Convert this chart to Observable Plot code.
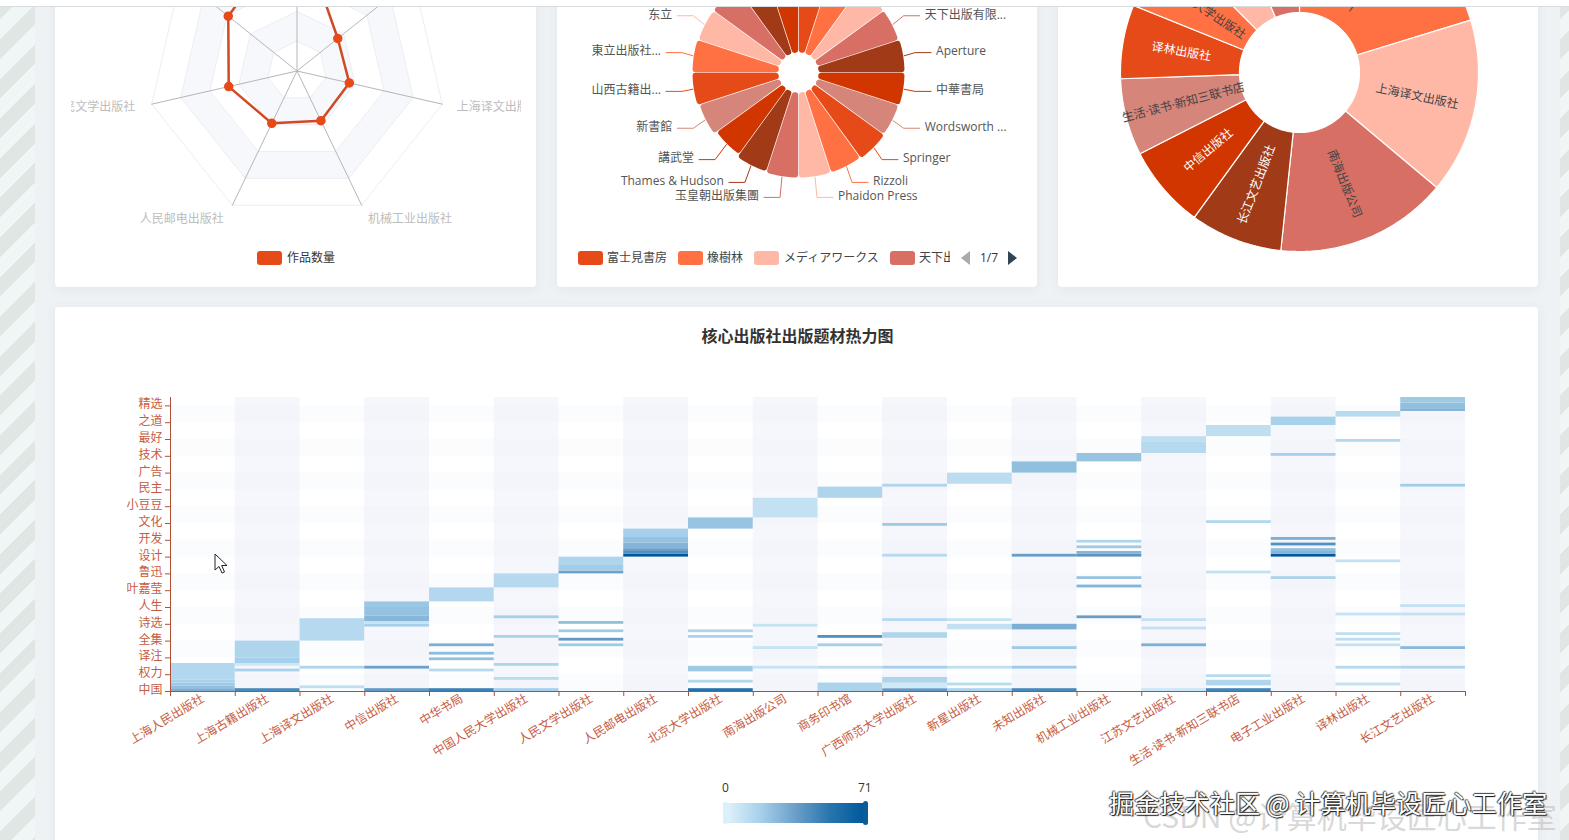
<!DOCTYPE html>
<html lang="zh">
<head>
<meta charset="utf-8">
<script src="https://cdn.jsdelivr.net/npm/d3@7"></script>
<script src="https://cdn.jsdelivr.net/npm/@observablehq/plot@0.6"></script>
<style>
html,body{margin:0;padding:0;width:1569px;height:840px;overflow:hidden;background:#eff2f5;font-family:"Open Sans","Noto Sans CJK SC","Noto Sans",sans-serif;}
.abs{position:absolute;}
.clip{position:absolute;overflow:hidden;}
.stripe{position:absolute;top:0;height:840px;background:repeating-linear-gradient(135deg,#dfe6e4 0 14px,#f0f5f5 14px 28px);}
.card{position:absolute;background:#fff;border-radius:4px;box-shadow:0 2px 12px rgba(60,70,80,.07);}
.swatch{position:absolute;width:25px;height:14px;border-radius:3px;}
.lg{position:absolute;font-size:12px;line-height:14px;color:#444;white-space:nowrap;}
</style>
</head>
<body>
<div id="page" class="abs" style="left:0;top:0;width:1569px;height:840px;overflow:hidden">
  <div class="stripe" style="left:0;width:35px"></div>
  <div class="stripe" style="left:1560px;width:9px"></div>
  <div class="card" style="left:55px;top:-20px;width:481px;height:307px"></div>
  <div class="card" style="left:557px;top:-20px;width:480px;height:307px"></div>
  <div class="card" style="left:1058px;top:-20px;width:480px;height:307px"></div>
  <div class="card" style="left:55px;top:307px;width:1483px;height:560px"></div>
  <div class="abs" style="left:0;top:0;width:1569px;height:6px;background:#fff;border-bottom:1px solid #d9dcdf;z-index:5"></div>
  <div class="abs" style="left:56px;top:325px;width:1483px;text-align:center;font-size:16px;line-height:22px;font-weight:700;color:#333">核心出版社出版题材热力图</div>
</div>
<script>
const fontFamily = '"Open Sans","Noto Sans CJK SC","Noto Sans",sans-serif';
const page = document.getElementById("page");

// ---------- palette ----------
const paletteRed = "#e64a19", paletteOrange = "#ff7043", palettePale = "#ffb8a6",
      paletteRose = "#d86f65", paletteBrown = "#a03a17", paletteDeep = "#d13600", paletteBeige = "#d6857a";
const roseCycle = [paletteRed, paletteOrange, palettePale, paletteRose, paletteBrown, paletteDeep, paletteBeige];

// ---------- radar ----------
const radarNames = ["上海人民出版社","上海古籍出版社","上海译文出版社","机械工业出版社","人民邮电出版社","人民文学出版社","中信出版社"];
const radarValues = [100, 35, 36, 37, 39, 47, 59];
const radarMax = 100;

// ---------- rose ----------
const roseNames = ["富士見書房","橡樹林","メディアワークス","天下出版有限...","Aperture","中華書局","Wordsworth ...","Springer","Rizzoli","Phaidon Press","玉皇朝出版集團","Thames & Hudson","講武堂","新書館","山西古籍出...","東立出版社...","东立","尖端","角川書店","時報文化"];
const roseRadii = [105,105,105,105,106,106,105,106,105,105,105,104,101,104,106,106,105,105,105,105];

// ---------- pie ----------
const pieNames = ["上海人民出版社","上海译文出版社","南海出版公司","长江文艺出版社","中信出版社","生活·读书·新知三联书店","译林出版社","中国人民大学出版社","新星出版社","北京大学出版社"];
const pieValues = [73, 57, 56, 30, 27, 25, 24, 23, 21.5, 23.5];
const pieColors = [paletteOrange, palettePale, paletteRose, paletteBrown, paletteDeep, paletteBeige, paletteRed, paletteOrange, palettePale, paletteRose];
const pieTextColors = ["#444","#444","#444","#fff","#fff","#444","#fff","#444","#444","#444"];

// ---------- heatmap ----------
const publishers = ["上海人民出版社","上海古籍出版社","上海译文出版社","中信出版社","中华书局","中国人民大学出版社","人民文学出版社","人民邮电出版社","北京大学出版社","南海出版公司","商务印书馆","广西师范大学出版社","新星出版社","未知出版社","机械工业出版社","江苏文艺出版社","生活·读书·新知三联书店","电子工业出版社","译林出版社","长江文艺出版社"];
const keywordLabels = ["中国","权力","译注","全集","诗选","人生","叶嘉莹","鲁迅","设计","开发","文化","小豆豆","民主","广告","技术","最好","之道","精选"];
const rowCount = 105, labelEvery = 6, valueMax = 71;
const colorStops = ["#e0f3fb","#a6d0ea","#6b9fc9","#2875ad","#00579b"];
// each entry: [first row, last row, value]
const col00 = [[0,0,30],[1,1,24],[2,2,20],[3,3,17],[4,9,14]];
const col01 = [[0,0,45],[7,7,17],[9,9,6],[10,11,18],[12,17,15]];
const col02 = [[1,1,10],[8,8,15],[18,25,13]];
const col03 = [[0,0,38],[8,8,35],[23,23,18],[24,24,8],[25,26,27],[27,29,23],[30,31,21]];
const col04 = [[0,0,48],[7,7,13],[11,11,24],[13,13,25],[16,16,30],[32,36,14]];
const col05 = [[0,0,18],[4,4,12],[9,9,15],[19,19,17],[26,26,18],[37,41,13]];
const col06 = [[16,16,20],[18,18,38],[21,21,20],[24,24,24],[42,42,35],[43,44,19],[45,47,15]];
const col07 = [[48,48,71],[49,49,42],[50,50,36],[51,52,28],[53,54,23],[55,57,18]];
const col08 = [[0,0,55],[3,3,14],[7,8,20],[19,19,17],[21,21,15],[58,61,22]];
const col09 = [[8,8,8],[15,15,8],[23,23,8],[62,68,9]];
const col10 = [[0,2,16],[8,8,11],[16,16,18],[19,19,42],[69,72,15]];
const col11 = [[0,0,38],[1,2,5],[3,4,15],[8,8,18],[19,20,15],[25,25,13],[48,48,13],[59,59,20],[73,73,15]];
const col12 = [[0,0,16],[2,2,12],[8,8,10],[22,23,9],[25,25,8],[74,77,11]];
const col13 = [[0,0,45],[8,8,20],[15,15,20],[22,23,30],[48,48,36],[78,81,24]];
const col14 = [[26,26,36],[37,37,28],[40,40,22],[48,48,40],[49,49,28],[51,51,20],[53,53,15],[82,84,22]];
const col15 = [[0,0,6],[16,16,30],[22,22,9],[25,25,9],[85,88,13],[89,90,10]];
const col16 = [[0,0,46],[2,3,15],[5,5,12],[42,42,9],[60,60,14],[91,94,10]];
const col17 = [[40,40,16],[48,48,70],[49,49,28],[50,50,24],[52,52,42],[54,54,30],[84,84,18],[95,97,17]];
const col18 = [[2,2,9],[8,8,13],[16,16,9],[18,18,11],[20,20,10],[27,27,8],[46,46,9],[89,89,13],[98,99,12]];
const col19 = [[8,8,15],[15,15,26],[27,27,9],[30,30,9],[73,73,19],[100,100,28],[101,102,24],[103,104,20]];
const columns = [col00,col01,col02,col03,col04,col05,col06,col07,col08,col09,col10,col11,col12,col13,col14,col15,col16,col17,col18,col19];

// ---------- helpers ----------
const polar = (r, deg) => ({x: r * Math.sin(deg * Math.PI / 180), y: r * Math.cos(deg * Math.PI / 180)});
function place(node, left, top, width, height) {
  const d = document.createElement("div");
  d.className = "clip";
  Object.assign(d.style, {left: left + "px", top: top + "px", width: width + "px", height: height + "px"});
  d.appendChild(node);
  page.appendChild(d);
}
function polarPlot(cx, cy, left, top, w, h, marks) {
  place(Plot.plot({
    width: w, height: h, margin: 0,
    x: {domain: [left - cx, left + w - cx], axis: null},
    y: {domain: [cy - top - h, cy - top], axis: null},
    style: {background: "transparent", fontFamily, fontSize: "12px", overflow: "hidden"},
    marks
  }), left, top, w, h);
}
const px = v => v + "px";
function addText(text, left, top, color) {
  const d = document.createElement("div");
  d.className = "lg"; d.textContent = text;
  d.style.left = px(left); d.style.top = px(top);
  if (color) d.style.color = color;
  page.appendChild(d);
  return d;
}
function addSwatch(color, left, top) {
  const d = document.createElement("div");
  d.className = "swatch"; d.style.left = px(left); d.style.top = px(top); d.style.background = color;
  page.appendChild(d);
}

// ---------- radar chart ----------
{
  const R = 149, n = radarNames.length, step = 360 / n;
  const ringFills = ["#ffffff", "#f6f8fc", "#ffffff", "#f6f8fc", "#ffffff"];
  const rings = [];
  [5, 4, 3, 2, 1].forEach((lv, j) => {
    for (let k = 0; k <= n; k++) rings.push({...polar(R * lv / 5, k * step), ring: lv, fill: ringFills[j]});
  });
  const spokes = radarNames.flatMap((name, k) => [{x: 0, y: 0, k}, {...polar(R, k * step), k}]);
  const pts = radarValues.map((v, k) => ({...polar(v / radarMax * R, k * step), k}));
  const labels = radarNames.map((name, k) => ({...polar(R * 1.1, k * step), name, k}));
  const right = labels.filter(d => d.k >= 1 && d.k <= 3), left = labels.filter(d => d.k >= 4);
  polarPlot(296.5, 70.5, 71, 7, 450, 240, [
    Plot.line(rings, {x: "x", y: "y", z: "ring", fill: {value: "fill", scale: null}, stroke: "#eceef2", strokeWidth: 1}),
    Plot.line(spokes, {x: "x", y: "y", z: "k", stroke: "#b4b6ba", strokeWidth: 1}),
    Plot.line([...pts, pts[0]], {x: "x", y: "y", stroke: "#cf4a25", strokeWidth: 2.5}),
    Plot.dot(pts, {x: "x", y: "y", r: 4, fill: paletteRed, stroke: paletteRed}),
    Plot.text(right, {x: "x", y: "y", text: "name", textAnchor: "start", fill: "#bdbdbd", fontSize: 12}),
    Plot.text(left, {x: "x", y: "y", text: "name", textAnchor: "end", dx: -2, fill: "#bdbdbd", fontSize: 12})
  ]);
  addSwatch(paletteRed, 257, 251);
  addText("作品数量", 287, 251, "#333");
}

// ---------- rose chart ----------
{
  const step = 360 / roseRadii.length, off = 3, pad = 0.35, inner = 23;
  const poly = [];
  roseRadii.forEach((r0, i) => {
    const a0 = i * step, a1 = (i + 1) * step, outer = r0 - off;
    const color = roseCycle[i % roseCycle.length];
    const push = (r, a) => poly.push({...polar(r, a), i, color});
    const d = r => (off + pad) / r * 180 / Math.PI;
    push(inner, a0 + Math.min(d(inner), step / 2));
    for (let a = a0 + d(outer); a <= a1 - d(outer) + 1e-6; a += (step - 2 * d(outer)) / 6) push(outer, a);
    push(inner, a1 - Math.min(d(inner), step / 2));
    push(inner, a0 + Math.min(d(inner), step / 2));
  });
  // leader lines and labels
  const elbowR = 118, lead = 16, gap = 5, minGap = 15;
  const items = roseNames.map((name, i) => {
    const mid = (i + 0.5) * step, e = polar(elbowR, mid), s = polar(roseRadii[i] + 1, mid);
    return {name, i, mid, side: mid < 180 ? 1 : -1, sx: s.x, sy: s.y, ex: e.x, ey: e.y * 1.05 + 0.5, color: roseCycle[i % roseCycle.length]};
  });
  const spread = list => { for (let j = 1; j < list.length; j++) if (list[j].ey > list[j - 1].ey - minGap) list[j].ey = list[j - 1].ey - minGap; };
  spread(items.filter(d => d.side > 0 && d.mid > 90).sort((a, b) => a.mid - b.mid));
  spread(items.filter(d => d.side < 0 && d.mid < 270).sort((a, b) => b.mid - a.mid));
  const leaders = items.flatMap(d => [
    {x: d.sx, y: d.sy, i: d.i, color: d.color},
    {x: d.ex, y: d.ey, i: d.i, color: d.color},
    {x: d.ex + d.side * lead, y: d.ey, i: d.i, color: d.color}
  ]);
  const texts = items.map(d => ({x: d.ex + d.side * (lead + gap), y: d.ey + 1, name: d.name, side: d.side}));
  polarPlot(798, 72, 557, 7, 480, 232, [
    Plot.line(poly, {x: "x", y: "y", z: "i", fill: {value: "color", scale: null}, stroke: {value: "color", scale: null}, strokeWidth: off * 2, strokeLinejoin: "round"}),
    Plot.line(leaders, {x: "x", y: "y", z: "i", stroke: {value: "color", scale: null}, strokeWidth: 1}),
    Plot.text(texts.filter(d => d.side > 0), {x: "x", y: "y", text: "name", textAnchor: "start", fill: "#555", fontSize: 12}),
    Plot.text(texts.filter(d => d.side < 0), {x: "x", y: "y", text: "name", textAnchor: "end", fill: "#555", fontSize: 12})
  ]);
  // paged legend
  addSwatch(roseCycle[0], 578, 251); addText(roseNames[0], 607, 251);
  addSwatch(roseCycle[1], 678, 251); addText(roseNames[1], 707, 251);
  addSwatch(roseCycle[2], 754, 251); addText(roseNames[2], 784, 251);
  addSwatch(roseCycle[3], 890, 251);
  const clipLg = addText("天下出版有限公司", 919, 251);
  clipLg.style.width = "31px"; clipLg.style.overflow = "hidden";
  addText("1/7", 980, 251, "#333");
  const arrows = document.createElement("div");
  arrows.className = "abs";
  arrows.innerHTML = '<svg width="70" height="20" style="display:block"><path d="M10 1 L1 8 L10 15Z" fill="#aaa"/><path d="M48 1 L57 8 L48 15Z" fill="#2f4554"/></svg>';
  arrows.style.left = "960px"; arrows.style.top = "250px";
  page.appendChild(arrows);
}

// ---------- pie chart ----------
{
  const total = d3.sum(pieValues), inner = 60, outer = 179;
  let acc = 0;
  const slices = pieValues.map((v, i) => {
    const a0 = acc / total * 360; acc += v; const a1 = acc / total * 360;
    return {i, a0, a1, mid: (a0 + a1) / 2};
  });
  const poly = slices.flatMap(s => {
    const out = [], steps = Math.ceil(s.a1 - s.a0);
    for (let j = 0; j <= steps; j++) out.push({...polar(outer, s.a0 + (s.a1 - s.a0) * j / steps), i: s.i, color: pieColors[s.i]});
    for (let j = steps; j >= 0; j--) out.push({...polar(inner, s.a0 + (s.a1 - s.a0) * j / steps), i: s.i, color: pieColors[s.i]});
    out.push({...out[0]});
    return out;
  });
  const labels = slices.map(s => ({...polar(120, s.mid), name: pieNames[s.i], color: pieTextColors[s.i], rot: s.mid < 180 ? s.mid - 90 : s.mid - 270}));
  polarPlot(1299, 72, 1058, 7, 480, 270, [
    Plot.line(poly, {x: "x", y: "y", z: "i", fill: {value: "color", scale: null}, stroke: "#fff", strokeWidth: 1.2, strokeLinejoin: "miter"}),
    Plot.text(labels, {x: "x", y: "y", text: "name", rotate: "rot", fill: {value: "color", scale: null}, fontSize: 12})
  ]);
}

// ---------- heat map ----------
{
  const axisColor = "#b04f33", labelColor = "#c65b43";
  const cells = columns.flatMap((spans, col) => spans.map(([first, last, value]) => ({col, first, last, value})));
  const colBands = publishers.map((name, i) => ({i})).filter(d => d.i % 2 === 1);
  const rowBands = d3.range(0, rowCount, labelEvery).filter((r, j) => j % 2 === 0);
  const tickRows = keywordLabels.map((d, i) => i * labelEvery);
  const plot = Plot.plot({
    width: 1483, height: 480,
    marginLeft: 115, marginRight: 73, marginTop: 90, marginBottom: 96,
    x: {type: "linear", domain: [0, publishers.length], axis: null},
    y: {type: "linear", domain: [0, rowCount], axis: null},
    color: {type: "linear", domain: [0, valueMax * .25, valueMax * .5, valueMax * .75, valueMax], range: colorStops},
    style: {background: "transparent", fontFamily, fontSize: "12px"},
    marks: [
      Plot.rect(colBands, {x1: "i", x2: d => d.i + 1, y1: 0, y2: rowCount, fill: "#e2e7f6", fillOpacity: 0.32}),
      Plot.rect(rowBands, {x1: 0, x2: publishers.length, y1: d => d, y2: d => Math.min(d + labelEvery, rowCount), fill: "#e2e7f6", fillOpacity: 0.14}),
      Plot.rect(cells, {x1: "col", x2: d => d.col + 1, y1: "first", y2: d => d.last + 1, fill: "value"}),
      Plot.ruleY([0], {stroke: axisColor}),
      Plot.ruleX([0], {stroke: axisColor}),
      Plot.axisX(d3.range(publishers.length + 1), {label: null, tickSize: 5, tickFormat: () => "", stroke: axisColor}),
      Plot.axisX(publishers.map((d, i) => i + 0.5), {label: null, tickSize: 0, tickPadding: 6, tickRotate: -31, fontSize: 12, fill: labelColor, textAnchor: "end", tickFormat: v => publishers[v - 0.5]}),
      Plot.axisY(tickRows, {label: null, tickSize: 5, tickFormat: () => "", stroke: axisColor}),
      Plot.axisY(tickRows.map(r => r + 0.5), {label: null, tickSize: 0, tickPadding: 8, fontSize: 12, fill: labelColor, tickFormat: v => keywordLabels[(v - 0.5) / labelEvery]})
    ]
  });
  place(plot, 55, 307, 1483, 480);

  // continuous legend
  addText("0", 722, 781, "#333");
  addText(String(valueMax), 858, 781, "#333");
  const ramp = document.createElement("div");
  ramp.className = "abs";
  ramp.style.cssText = `left:726px;top:803px;width:139px;height:20px;background:linear-gradient(90deg,${colorStops.join(",")});box-shadow:-3px 0 0 #e6f6fc`;
  page.appendChild(ramp);
  const h0 = document.createElement("div"), h1 = document.createElement("div");
  h0.className = h1.className = "abs";
  h0.style.cssText = "left:723px;top:802px;width:5px;height:22px;border-radius:3px;background:#d9f1fb";
  h1.style.cssText = "left:863px;top:801px;width:5px;height:24px;border-radius:3px;background:#0a5c99";
  page.append(h0, h1);
}

// ---------- overlays: watermarks and cursor ----------
{
  const mk = (text, css) => { const d = document.createElement("div"); d.className = "abs"; d.textContent = text; d.style.cssText += css; d.style.zIndex = 6; d.style.whiteSpace = "pre"; page.appendChild(d); };
  mk("CSDN @计算机毕设匠心工作室", "left:1143px;top:797px;font-size:30px;line-height:36px;color:rgba(190,190,190,.6);font-family:'Noto Sans CJK SC'");
  mk("掘金技术社区 @ 计算机毕设匠心工作室", "left:1109px;top:787px;font-size:25.2px;line-height:30px;color:#fff;text-shadow:1px 1px 1px #111,-1px 0 1px #333,0 -1px 1px #444;font-family:'Noto Sans CJK SC'");
  const c = document.createElement("div");
  c.className = "abs"; c.style.cssText = "left:214px;top:553px;z-index:6";
  c.innerHTML = '<svg width="16" height="22" style="display:block"><path d="M1 1 L1 17 L5 13.5 L8 20 L10.5 19 L7.7 12.5 L13 12.5Z" fill="#fff" stroke="#222" stroke-width="1"/></svg>';
  page.appendChild(c);
}
</script>
</body>
</html>
